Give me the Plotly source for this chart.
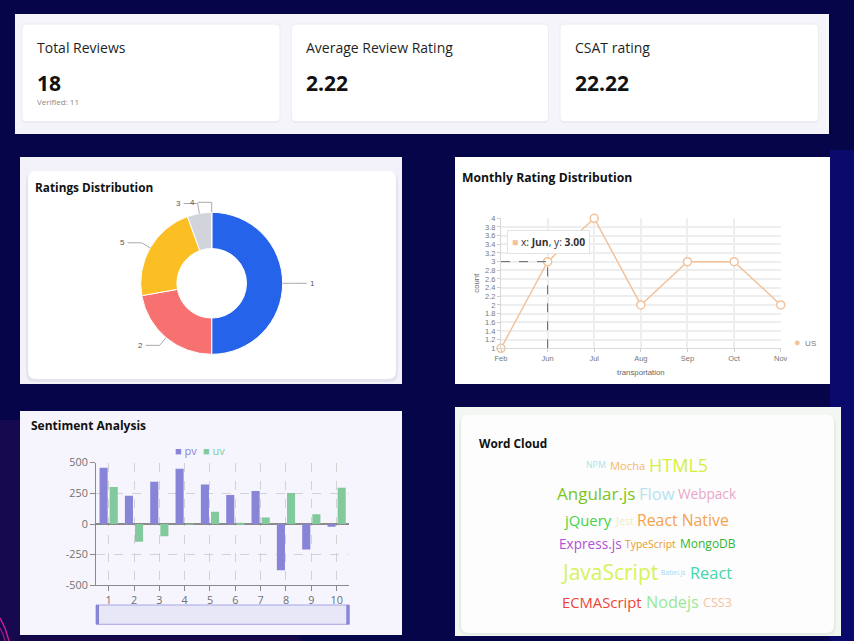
import numpy as np
import plotly.graph_objects as go

W, H = 854, 641

# ---------------- data ----------------
kpi_titles = ["Total Reviews", "Average Review Rating", "CSAT rating"]
kpi_values = [18, 2.22, 22.22]
verified_reviews = 11

rating_labels = ["1", "2", "5", "3", "4"]
rating_counts = [9, 4, 4, 1, 0]

months = ["Feb", "Jun", "Jul", "Aug", "Sep", "Oct", "Nov"]
month_counts = [1, 3, 4, 2, 3, 3, 2]
series_name = "US"
hover_idx = 1

sent_categories = ["1", "2", "3", "4", "5", "6", "7", "8", "9", "10"]
pv = [459, 231, 345, 451, 323, 236, 269, -378, -209, -22]
uv = [302, -144, -100, -4, 100, 11, 54, 253, 79, 296]
sent_yticks = [-500, -250, 0, 250, 500]

words = ["NPM", "Mocha", "HTML5", "Angular.js", "Flow", "Webpack", "jQuery", "Jest",
         "React Native", "Express.js", "TypeScript", "MongoDB", "JavaScript", "Babel.js",
         "React", "ECMAScript", "Nodejs", "CSS3"]
word_weights = [44, 56, 90, 85, 83, 68, 74, 54, 79, 68, 52, 60, 105, 34, 82, 74, 81, 63]

# ---------------- styles / layout helpers ----------------
word_colors = {"NPM": "#a8e4ee", "Mocha": "#f5b865", "HTML5": "#d4f03a", "Angular.js": "#7cc520",
               "Flow": "#b5e3f0", "Webpack": "#e9a6c9", "jQuery": "#44d444", "Jest": "#efedbf",
               "React Native": "#f4a24c", "Express.js": "#b34fd6", "TypeScript": "#e89a2c",
               "MongoDB": "#33b533", "JavaScript": "#d6f35a", "Babel.js": "#a9d6f0",
               "React": "#45d6ad", "ECMAScript": "#f0443a", "Nodejs": "#9be896", "CSS3": "#f3c3a3"}
word_rows = [["NPM", "Mocha", "HTML5"], ["Angular.js", "Flow", "Webpack"],
             ["jQuery", "Jest", "React Native"], ["Express.js", "TypeScript", "MongoDB"],
             ["JavaScript", "Babel.js", "React"], ["ECMAScript", "Nodejs", "CSS3"]]

PIE_COLORS = ["#2563eb", "#f87171", "#fbbf24", "#d1d5db", "#9ca3af"]
PEACH = "#f2c29b"
PV_C, UV_C = "#8884d8", "#82ca9d"

shapes, annotations = [], []


def X(x):
    return x / W


def Y(y):
    return 1 - y / H


def rrect(x0, y0, x1, y1, r, fill, line="rgba(0,0,0,0)", lw=0, layer="below"):
    p = (f"M{X(x0 + r)},{Y(y0)} L{X(x1 - r)},{Y(y0)} Q{X(x1)},{Y(y0)} {X(x1)},{Y(y0 + r)} "
         f"L{X(x1)},{Y(y1 - r)} Q{X(x1)},{Y(y1)} {X(x1 - r)},{Y(y1)} "
         f"L{X(x0 + r)},{Y(y1)} Q{X(x0)},{Y(y1)} {X(x0)},{Y(y1 - r)} "
         f"L{X(x0)},{Y(y0 + r)} Q{X(x0)},{Y(y0)} {X(x0 + r)},{Y(y0)} Z")
    shapes.append(dict(type="path", xref="paper", yref="paper", path=p, fillcolor=fill,
                       line=dict(color=line, width=lw), layer=layer))


def polyline(pts, color, width=1, dash="solid", layer="above"):
    p = "M" + " L".join(f"{X(a)},{Y(b)}" for a, b in pts)
    shapes.append(dict(type="path", xref="paper", yref="paper", path=p,
                       line=dict(color=color, width=width, dash=dash), layer=layer))


def text(x, y, s, size, color="#222", family="Open Sans", xanchor="left", yanchor="middle", **kw):
    # annotations carry ~2px of inner padding; compensate so the glyphs start at x
    if xanchor == "left":
        x -= 2
    elif xanchor == "right":
        x += 2
    annotations.append(dict(x=X(x), y=Y(y), xref="paper", yref="paper", text=s, showarrow=False,
                            xanchor=xanchor, yanchor=yanchor,
                            font=dict(size=size, color=color, family=family), **kw))


# ---------------- background ----------------
rrect(830, 150, 854, 641, 0, "#0a0a6c")
rrect(0, 420, 20, 641, 0, "#170950")
rrect(0, 636, 300, 641, 0, "#140848")
polyline([(0, 618), (5, 628), (9, 641)], "#c0208f", 1.5, layer="below")
polyline([(0, 628), (3, 634), (5, 641)], "#a01a80", 1.2, layer="below")

# ---------------- KPI panel ----------------
rrect(15, 14, 829, 134, 0, "#f5f4fb")
card_x = [(22, 280), (291.4, 548.5), (560, 818.6)]
for (x0, x1), t, v in zip(card_x, kpi_titles, kpi_values):
    rrect(x0, 25, x1, 123, 5, "rgba(40,30,80,0.05)")
    rrect(x0, 24, x1, 121.7, 5, "#ffffff", line="#ececf2", lw=1)
    text(x0 + 15, 47.7, t, 14, "#1f1f1f")
    text(x0 + 15, 82.5, f"<b>{v:g}</b>", 21, "#111111")
text(card_x[0][0] + 15, 101.5, f"Verified: {verified_reviews}", 8, "#888888")

# ---------------- Ratings panel ----------------
rrect(20, 157, 402, 384, 0, "#f3f1fa")
rrect(26, 172, 398, 382, 9, "rgba(60,50,90,0.07)")
rrect(28, 171, 396, 379, 8, "#ffffff")
text(35, 187.3, "<b>Ratings Distribution</b>", 11.8, "#111111")

cx, cy, R = 211.7, 283.3, 71
total = sum(rating_counts)
cum = 0
for lab, v in zip(rating_labels, rating_counts):
    a0 = cum / total * 360
    cum += v
    a1 = cum / total * 360
    mid = np.radians((a0 + a1) / 2)
    dx, dy = np.sin(mid), -np.cos(mid)
    p0 = (cx + R * dx, cy + R * dy)
    p1 = (cx + (R + 10) * dx, cy + (R + 10) * dy)
    sgn = 1 if (a0 + a1) / 2 < 180 else -1
    p2 = (p1[0] + sgn * 14, p1[1])
    polyline([p0, p1, p2], "#aaaaaa", 1)
    text(p2[0] + sgn * 3, p2[1], lab, 8, "#555555", family="Liberation Sans",
         xanchor="left" if sgn > 0 else "right")

# ---------------- Monthly panel ----------------
rrect(455, 157, 830, 384, 0, "#ffffff")
text(462.3, 177.7, "<b>Monthly Rating Distribution</b>", 12.2, "#111111")
text(475.7, 283, "count", 7.8, "#666666", family="Liberation Sans", xanchor="center", textangle=-90)
text(641, 372, "transportation", 7.8, "#666666", family="Liberation Sans", xanchor="center")
shapes.append(dict(type="line", xref="x", yref="y", x0=0, x1=hover_idx,
                   y0=month_counts[hover_idx], y1=month_counts[hover_idx],
                   line=dict(color="#666666", width=1, dash="dash"), layer="above"))
shapes.append(dict(type="line", xref="x", yref="y", x0=hover_idx, x1=hover_idx,
                   y0=min(month_counts), y1=month_counts[hover_idx],
                   line=dict(color="#666666", width=1, dash="dash"), layer="above"))
text(548, 241.7,
     f"<span style='color:{PEACH}'>■</span> x: <b>{months[hover_idx]}</b>, y: <b>{month_counts[hover_idx]:.2f}</b>",
     10.3, "#333333", xanchor="center", bgcolor="#ffffff", bordercolor="#e3e3e3", borderwidth=1, borderpad=4)
text(794, 341.7, f"<span style='color:{PEACH};font-size:11px'>●</span>&nbsp;&nbsp;{series_name}",
     8, "#777777", family="Liberation Sans")

# ---------------- Sentiment panel ----------------
rrect(20, 411, 402, 635, 0, "#f6f5fd")
text(31, 425, "<b>Sentiment Analysis</b>", 12, "#111111")
for name, col, lx in [("pv", PV_C, 174.5), ("uv", UV_C, 202.5)]:
    text(lx, 450.7, f"<span style='color:{col}'>■ {name}</span>", 11, col)
rrect(96, 605, 349.3, 624.3, 0, "#e8e7f7", line="#a7a4e6", lw=1)
rrect(96, 605, 99, 624.3, 0, PV_C)
rrect(346.3, 605, 349.3, 624.3, 0, PV_C)

# ---------------- Word cloud panel ----------------
rrect(455, 407, 841, 636, 0, "#f3f7f2")
rrect(459, 416, 836, 635, 9, "rgba(60,60,60,0.06)")
rrect(461, 415, 834, 633, 8, "#fdfdfd")
text(479.3, 442.7, "<b>Word Cloud</b>", 11.8, "#111111")

EM = {' ': .26, '.': .266, '3': .572, '5': .572, 'A': .633, 'B': .648, 'C': .631, 'D': .729,
      'E': .556, 'F': .516, 'G': .728, 'H': .738, 'I': .279, 'J': .267, 'K': .614, 'L': .524,
      'M': .903, 'N': .756, 'O': .779, 'P': .602, 'Q': .779, 'R': .618, 'S': .549, 'T': .553,
      'U': .728, 'V': .595, 'W': .926, 'X': .577, 'Y': .56, 'Z': .571, 'a': .556, 'b': .604,
      'c': .476, 'd': .604, 'e': .561, 'f': .339, 'g': .53, 'h': .613, 'i': .253, 'j': .253,
      'k': .525, 'l': .253, 'm': .93, 'n': .613, 'o': .597, 'p': .604, 'q': .604, 'r': .408,
      's': .477, 't': .353, 'u': .613, 'v': .501, 'w': .778, 'x': .524, 'y': .502, 'z': .477}
wsize = {w: v * 0.2 for w, v in zip(words, word_weights)}
wwidth = {w: sum(EM.get(ch, .55) for ch in w) * wsize[w] for w in words}
row_max = [max(wsize[w] for w in r) for r in word_rows]
row_y = [0.0]
for i in range(1, len(word_rows)):
    row_y.append(row_y[-1] + 1.62 * (row_max[i - 1] + row_max[i]) / 2)
cloud_cx, cloud_cy, gap = 647, 533.7, 4
shift = cloud_cy - (row_y[0] + row_y[-1]) / 2
for r, ry in zip(word_rows, row_y):
    tot = sum(wwidth[w] for w in r) + gap * (len(r) - 1)
    xx = cloud_cx - tot / 2
    for w in r:
        text(xx + wwidth[w] / 2, ry + shift, w, wsize[w], word_colors[w], xanchor="center")
        xx += wwidth[w] + gap

# ---------------- traces ----------------
fig = go.Figure()
fig.add_trace(go.Pie(labels=rating_labels, values=rating_counts, hole=0.49, sort=False,
                     direction="clockwise", rotation=0, textinfo="none", hoverinfo="skip",
                     marker=dict(colors=PIE_COLORS, line=dict(color="#ffffff", width=1)),
                     domain=dict(x=[X(cx - R), X(cx + R)], y=[Y(cy + R), Y(cy - R)]),
                     showlegend=False))
fig.add_trace(go.Scatter(x=months, y=month_counts, mode="lines+markers", name=series_name,
                         line=dict(color=PEACH, width=1.5),
                         marker=dict(symbol="circle", size=8, color="#ffffff",
                                     line=dict(color=PEACH, width=1.5)),
                         cliponaxis=False, xaxis="x", yaxis="y", showlegend=False, hoverinfo="skip"))
fig.add_trace(go.Bar(x=sent_categories, y=pv, name="pv", marker=dict(color=PV_C, line=dict(width=0)),
                     xaxis="x2", yaxis="y2", showlegend=False, hoverinfo="skip"))
fig.add_trace(go.Bar(x=sent_categories, y=uv, name="uv", marker=dict(color=UV_C, line=dict(width=0)),
                     xaxis="x2", yaxis="y2", showlegend=False, hoverinfo="skip"))

small_font = dict(family="Liberation Sans", size=7.5, color="#777777")
sent_font = dict(family="Open Sans", size=10.8, color="#707070")
fig.update_layout(
    width=W, height=H, autosize=False,
    margin=dict(l=0, r=0, t=0, b=0, pad=0, autoexpand=False),
    paper_bgcolor="#070549", plot_bgcolor="rgba(0,0,0,0)",
    font=dict(family="Open Sans"), showlegend=False,
    barmode="group", bargap=0.2, bargroupgap=0.2,
    xaxis=dict(domain=[X(501), X(780.7)], type="category", categoryorder="array",
               categoryarray=months, range=[0, len(months) - 1], showgrid=True,
               gridcolor="#eeeeee", gridwidth=1.5, showline=True, linecolor="#d9d9d9",
               ticks="outside", ticklen=3, tickcolor="#cccccc", tickfont=small_font,
               zeroline=False, anchor="y", fixedrange=True, automargin=False),
    yaxis=dict(domain=[Y(348.3), Y(218.3)], range=[1, 4], dtick=0.2, tick0=1, showgrid=True,
               gridcolor="#eeeeee", gridwidth=1.5, showline=True, linecolor="#d9d9d9",
               ticks="outside", ticklen=3, tickcolor="#cccccc", tickfont=small_font,
               zeroline=False, anchor="x", fixedrange=True, automargin=False),
    xaxis2=dict(domain=[X(96), X(349.3)], type="category", range=[-0.5, 9.5], showgrid=True,
                griddash="dash", gridcolor="#d2d2d2", gridwidth=1, showline=True,
                linecolor="#8a8a8a", ticks="outside", ticklen=5, tickcolor="#8a8a8a",
                tickfont=sent_font, zeroline=False, anchor="y2", fixedrange=True, automargin=False),
    yaxis2=dict(domain=[Y(585.3), Y(462.7)], range=[-500, 500], tickvals=sent_yticks,
                ticktext=[str(v) for v in sent_yticks], showgrid=True, griddash="dash",
                gridcolor="#d2d2d2", gridwidth=1, showline=True, linecolor="#8a8a8a",
                ticks="outside", ticklen=5, tickcolor="#8a8a8a", tickfont=sent_font,
                zeroline=True, zerolinecolor="#8a8a8a", zerolinewidth=1.5,
                anchor="x2", fixedrange=True, automargin=False),
    shapes=shapes, annotations=annotations,
)

fig.write_html("out.html", config={"displayModeBar": False},
               default_width=f"{W}px", default_height=f"{H}px",
               post_script="document.body.style.margin='0';document.body.style.overflow='hidden';")
